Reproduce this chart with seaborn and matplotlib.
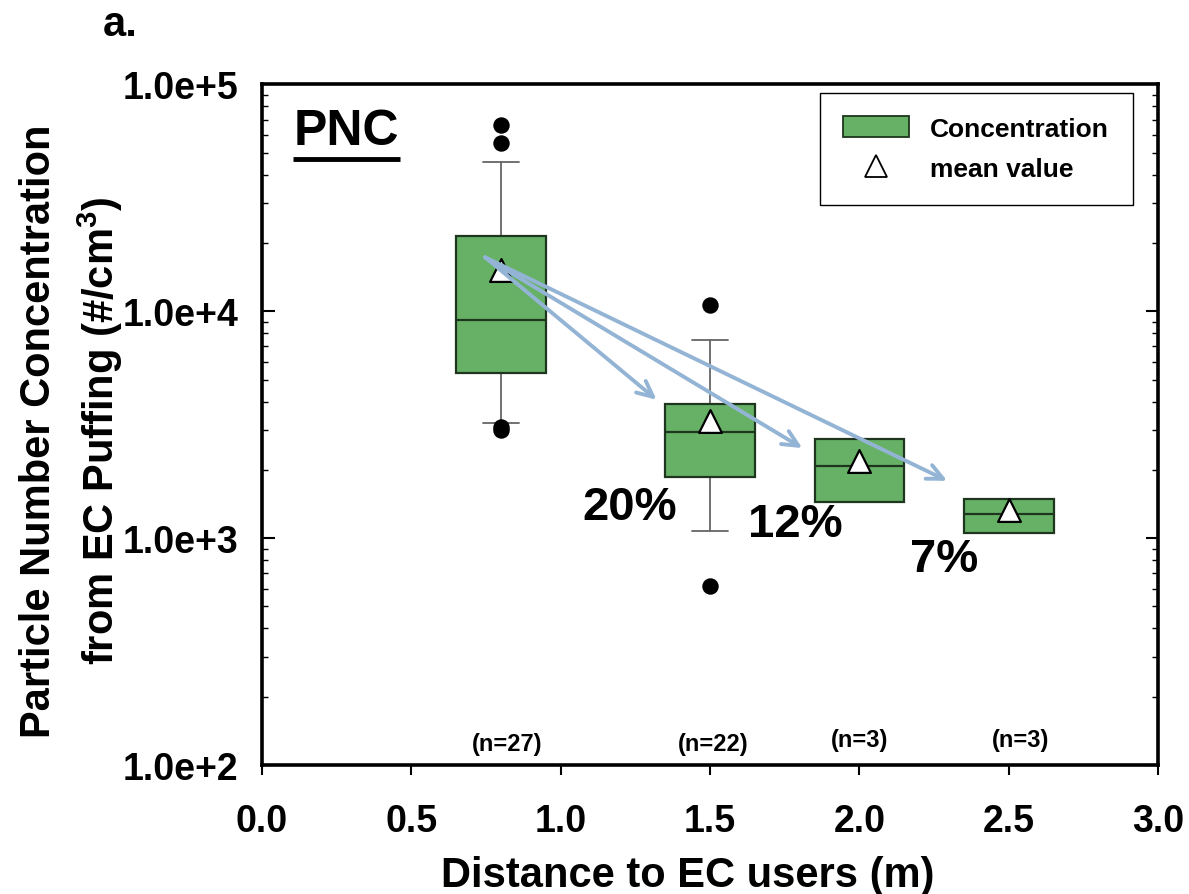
import numpy as np
import matplotlib
matplotlib.use("Agg")
import matplotlib.pyplot as plt
import seaborn as sns
from matplotlib.patches import Patch
from matplotlib.lines import Line2D

# ---------------- data ----------------
distances = [0.8, 1.5, 2.0, 2.5]
q1 = [5330, 1870, 1442, 1052]
medians = [9120, 2950, 2089, 1277]
q3 = [21400, 3910, 2735, 1490]
whisk_low = [3210, 1071, 1442, 1052]
whisk_high = [45300, 7480, 2735, 1490]
means = [15170, 3270, 2193, 1335]
outliers = [[3000, 3080, 54950, 66200], [615, 10670], [], []]

n_labels = ["(n=27)", "(n=22)", "(n=3)", "(n=3)"]
n_label_x = [0.82, 1.51, 2.0, 2.54]
n_label_y = [124, 124, 130, 130]

arrow_start_x = 0.747
arrow_start_y = 17300
arrow_end_x = [1.321, 1.809, 2.294]
arrow_end_y = [4075, 2495, 1790]

pct_labels = ["20%", "12%", "7%"]
pct_x = [1.232, 1.784, 2.283]
pct_y = [1371, 1153, 809]

xticks = [0.0, 0.5, 1.0, 1.5, 2.0, 2.5, 3.0]
xtick_labels = ["0.0", "0.5", "1.0", "1.5", "2.0", "2.5", "3.0"]
yticks = [1e2, 1e3, 1e4, 1e5]
ytick_labels = ["1.0e+2", "1.0e+3", "1.0e+4", "1.0e+5"]

# ---------------- style ----------------
sns.set_theme(style="ticks")
plt.rcParams["font.family"] = ["Liberation Sans", "DejaVu Sans"]
plt.rcParams["font.weight"] = "bold"
plt.rcParams["text.color"] = "black"
plt.rcParams["axes.labelcolor"] = "black"
plt.rcParams["xtick.color"] = "black"
plt.rcParams["ytick.color"] = "black"
plt.rcParams["mathtext.fontset"] = "custom"
plt.rcParams["mathtext.rm"] = "Liberation Sans:bold"
plt.rcParams["mathtext.bf"] = "Liberation Sans:bold"
plt.rcParams["mathtext.default"] = "bf"

box_color = "#67b167"
arrow_color = "#93b4d4"

fig = plt.figure(figsize=(11.89, 8.95), dpi=100)
ax = fig.add_axes([0.2204, 0.1441, 0.7536, 0.7604])

# ---------------- boxes ----------------
stats = []
for i in range(len(distances)):
    stats.append(dict(med=medians[i], q1=q1[i], q3=q3[i],
                      whislo=whisk_low[i], whishi=whisk_high[i], fliers=[]))
res = ax.bxp(stats, positions=distances, widths=0.3, capwidths=0.12,
             patch_artist=True, showfliers=False, manage_ticks=False,
             boxprops=dict(facecolor=box_color, edgecolor="#1d361d", linewidth=1.6),
             medianprops=dict(color="#1d361d", linewidth=1.6),
             whiskerprops=dict(color="#666666", linewidth=1.3),
             capprops=dict(color="#666666", linewidth=1.3))
for b in res["boxes"]:
    b.set_zorder(3)
for m in res["medians"]:
    m.set_zorder(4)
for i in range(len(distances)):
    if whisk_low[i] == q1[i]:
        res["caps"][2 * i].set_visible(False)
    if whisk_high[i] == q3[i]:
        res["caps"][2 * i + 1].set_visible(False)

# outliers
ox = [distances[i] for i in range(len(distances)) for _ in outliers[i]]
oy = [v for i in range(len(distances)) for v in outliers[i]]
sns.scatterplot(x=ox, y=oy, ax=ax, color="black", s=140, edgecolor="black",
                linewidth=0, zorder=5, legend=False)

# means
sns.scatterplot(x=distances, y=means, ax=ax, marker="^", s=270, color="white",
                edgecolor="black", linewidth=1.6, zorder=6, legend=False)

# arrows
for ex, ey in zip(arrow_end_x, arrow_end_y):
    ax.annotate("", xy=(ex, ey), xytext=(arrow_start_x, arrow_start_y),
                arrowprops=dict(arrowstyle="->,head_length=0.95,head_width=0.45",
                                color=arrow_color, lw=2.8, shrinkA=0, shrinkB=0),
                zorder=7)

for t, x, y in zip(pct_labels, pct_x, pct_y):
    ax.text(x, y, t, fontsize=34, fontweight="bold", ha="center", va="center", zorder=8)

for t, x, y in zip(n_labels, n_label_x, n_label_y):
    ax.text(x, y, t, fontsize=17, fontweight="bold", ha="center", va="center")

# PNC label with underline
ax.text(0.094, 0.932, "PNC", transform=ax.transAxes, fontsize=36,
        fontweight="bold", ha="center", va="center")
ax.plot([0.035, 0.154], [0.891, 0.891], transform=ax.transAxes, color="black",
        lw=3.5, solid_capstyle="butt", clip_on=False)

# ---------------- axes ----------------
ax.set_yscale("log")
ax.set_xlim(0, 3)
ax.set_ylim(1e2, 1e5)
ax.set_xticks(xticks, xtick_labels)
ax.set_yticks(yticks, ytick_labels)
ax.tick_params(axis="x", which="major", direction="out", length=7, width=1.5,
               labelsize=27, pad=20, bottom=True, top=False)
ax.tick_params(axis="x", which="minor", bottom=False, top=False)
ax.tick_params(axis="y", which="major", direction="in", length=9, width=1.5,
               labelsize=27, pad=17, left=True, right=True)
ax.tick_params(axis="y", which="minor", direction="in", length=4.5, width=1.0,
               left=True, right=True)
for lab in ax.get_xticklabels() + ax.get_yticklabels():
    lab.set_fontweight("bold")
for s in ax.spines.values():
    s.set_visible(True)
    s.set_linewidth(2.6)
    s.set_color("black")

ax.set_xlabel("Distance to EC users (m)", fontsize=30, fontweight="bold")
ax.xaxis.set_label_coords(0.475, -0.161)
ax.xaxis.label.set_verticalalignment("center")
ax.set_ylabel("Particle Number Concentration\nfrom EC Puffing (#/cm$^{3}$)",
              fontsize=30, fontweight="bold", linespacing=1.45)
ax.yaxis.set_label_coords(-0.212, 0.492)
ax.yaxis.label.set_verticalalignment("center")

# legend
handles = [Patch(facecolor=box_color, edgecolor="#1d361d", linewidth=1.3),
           Line2D([], [], linestyle="none", marker="^", markersize=16,
                  markerfacecolor="white", markeredgecolor="black", markeredgewidth=1.3)]
leg = ax.legend(handles, ["Concentration", "mean value"], loc="upper right",
                bbox_to_anchor=(0.972, 0.988), borderaxespad=0, fancybox=False,
                framealpha=1, edgecolor="black", handlelength=2.5, handleheight=0.8,
                handletextpad=0.8, labelspacing=0.6, borderpad=0.9,
                prop=dict(weight="bold", size=19))
leg.get_frame().set_linewidth(1.0)

fig.text(0.086, 0.972, "a.", fontsize=30, fontweight="bold", ha="left", va="center")

fig.savefig("out.png", dpi=100)
